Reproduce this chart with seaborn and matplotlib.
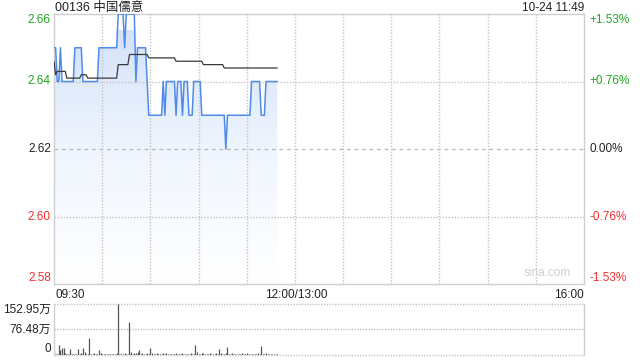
import numpy as np
import pandas as pd
import matplotlib
matplotlib.use("Agg")
import matplotlib.pyplot as plt
from matplotlib.colors import LinearSegmentedColormap
import seaborn as sns

# ---------------- data ----------------
title = "00136 中国儒意"
stamp = "10-24 11:49"
prev_close = 2.62
price_ticks = [2.66, 2.64, 2.62, 2.60, 2.58]
pct_labels = ["+1.53%", "+0.76%", "0.00%", "-0.76%", "-1.53%"]
time_labels = ["09:30", "12:00/13:00", "16:00"]
vol_tick_labels = ["152.95万", "76.48万", "0"]
vol_ticks = [152.95, 76.48, 0]

# per-minute price since 09:30 (minutes 0..139)
price = [
    2.65, 2.65, 2.64, 2.64, 2.65, 2.64, 2.64, 2.64, 2.64, 2.64,
    2.64, 2.64, 2.64, 2.65, 2.65, 2.65, 2.65, 2.65, 2.64, 2.64,
    2.64, 2.64, 2.64, 2.64, 2.64, 2.64, 2.64, 2.64, 2.65, 2.65,
    2.65, 2.65, 2.65, 2.65, 2.65, 2.65, 2.65, 2.65, 2.65, 2.65,
    2.66, 2.66, 2.66, 2.66, 2.65, 2.66, 2.66, 2.66, 2.66, 2.66,
    2.66, 2.64, 2.65, 2.65, 2.65, 2.65, 2.65, 2.65, 2.64, 2.63,
    2.63, 2.63, 2.63, 2.63, 2.63, 2.63, 2.63, 2.63, 2.64, 2.63,
    2.64, 2.64, 2.64, 2.64, 2.64, 2.64, 2.63, 2.64, 2.64, 2.64,
    2.63, 2.64, 2.64, 2.64, 2.63, 2.63, 2.63, 2.64, 2.64, 2.64,
    2.64, 2.64, 2.63, 2.63, 2.63, 2.63, 2.63, 2.63, 2.63, 2.63,
    2.63, 2.63, 2.63, 2.63, 2.63, 2.63, 2.63, 2.62, 2.63, 2.63,
    2.63, 2.63, 2.63, 2.63, 2.63, 2.63, 2.63, 2.63, 2.63, 2.63,
    2.63, 2.63, 2.63, 2.64, 2.64, 2.64, 2.64, 2.64, 2.64, 2.63,
    2.63, 2.63, 2.64, 2.64, 2.64, 2.64, 2.64, 2.64, 2.64, 2.64,
]

avg_price = [
    2.646, 2.642, 2.643, 2.643, 2.643, 2.643, 2.643, 2.643, 2.641, 2.641,
    2.641, 2.641, 2.641, 2.641, 2.641, 2.641, 2.641, 2.642, 2.642, 2.642,
    2.642, 2.641, 2.641, 2.641, 2.641, 2.641, 2.641, 2.641, 2.641, 2.641,
    2.641, 2.641, 2.641, 2.641, 2.641, 2.641, 2.641, 2.641, 2.641, 2.641,
    2.645, 2.645, 2.645, 2.645, 2.645, 2.645, 2.645, 2.648, 2.648, 2.648,
    2.648, 2.648, 2.648, 2.648, 2.648, 2.648, 2.648, 2.648, 2.648, 2.647,
    2.647, 2.647, 2.647, 2.647, 2.647, 2.647, 2.647, 2.647, 2.647, 2.647,
    2.647, 2.647, 2.647, 2.647, 2.647, 2.647, 2.646, 2.646, 2.646, 2.646,
    2.646, 2.646, 2.646, 2.646, 2.646, 2.646, 2.646, 2.646, 2.646, 2.646,
    2.646, 2.646, 2.646, 2.645, 2.645, 2.645, 2.645, 2.645, 2.645, 2.645,
    2.645, 2.645, 2.645, 2.645, 2.645, 2.645, 2.644, 2.644, 2.644, 2.644,
    2.644, 2.644, 2.644, 2.644, 2.644, 2.644, 2.644, 2.644, 2.644, 2.644,
    2.644, 2.644, 2.644, 2.644, 2.644, 2.644, 2.644, 2.644, 2.644, 2.644,
    2.644, 2.644, 2.644, 2.644, 2.644, 2.644, 2.644, 2.644, 2.644, 2.644,
]

# per-minute volume, in 万
volume = [
    13, 3, 4, 31, 14, 20, 22, 5, 4, 3,
    18, 4, 3, 2, 3, 18, 4, 5, 20, 8,
    3, 4, 51, 4, 3, 6, 3, 4, 14, 5,
    4, 3, 4, 3, 2, 3, 3, 4, 3, 5,
    152.95, 4, 3, 2, 5, 3, 4, 99, 8, 4,
    6, 5, 10, 14, 4, 6, 3, 4, 5, 3,
    21, 6, 4, 3, 5, 3, 4, 4, 5, 3,
    6, 3, 4, 3, 2, 4, 6, 3, 4, 3,
    5, 4, 3, 4, 3, 5, 4, 3, 30, 8,
    4, 3, 5, 7, 3, 4, 3, 5, 3, 4,
    3, 6, 4, 18, 5, 3, 4, 6, 24, 4,
    3, 5, 3, 4, 3, 4, 3, 5, 4, 3,
    6, 4, 3, 4, 3, 4, 3, 5, 4, 28,
    4, 3, 5, 3, 4, 3, 4, 3, 2, 3,
]

minutes = np.arange(len(price))
df = pd.DataFrame({"minute": minutes, "price": price,
                   "avg": avg_price, "volume": volume})

# ---------------- styling ----------------
sns.set_theme(style="white")
plt.rcParams["font.family"] = ["Liberation Sans", "Noto Sans CJK SC", "DejaVu Sans"]

GREEN = "#1ea51e"
RED = "#f03030"
BLUE = "#4f8be8"
GRID = "#c4c4c4"
SPINE = "#cfcfcf"
TXT = "#222222"
FS = 8.5

fig = plt.figure(figsize=(6.4, 3.6), dpi=100)
ax = fig.add_axes([54 / 640, 1 - 284 / 360, 530 / 640, 270 / 360])
axv = fig.add_axes([54 / 640, 1 - 355 / 360, 530 / 640, 51 / 360])

total_minutes = 330
ymin, ymax = 2.58, 2.66

# gradient fill under the price line
poly = ax.fill_between(df["minute"], df["price"], ymin, color="none", lw=0)
cmap = LinearSegmentedColormap.from_list("g", ["#ffffff", "#f1f6fe", "#d4e2f8"])
grad = np.linspace(0, 1, 256).reshape(-1, 1)
im = ax.imshow(grad, extent=[0, len(price) - 1, ymin, 2.655], origin="lower",
               aspect="auto", cmap=cmap, zorder=1)
im.set_clip_path(poly.get_paths()[0], transform=ax.transData)

# grid
for t in np.arange(30, total_minutes, 30):
    ax.axvline(t, color=GRID, lw=1.0, ls=(0, (1, 1.2)), zorder=2)
for p in price_ticks[1:-1]:
    if abs(p - prev_close) < 1e-9:
        ax.axhline(p, color="#b8b8b8", lw=0.9, ls=(0, (3, 3)), zorder=2)
    else:
        ax.axhline(p, color=GRID, lw=1.0, ls=(0, (1, 1.2)), zorder=2)

sns.lineplot(data=df, x="minute", y="price", ax=ax, color=BLUE, lw=1.1,
             zorder=4, legend=False)
sns.lineplot(data=df, x="minute", y="avg", ax=ax, color="#3a3a3a", lw=0.9,
             zorder=5, legend=False)

ax.set_xlim(0, total_minutes)
ax.set_ylim(ymin, ymax)
ax.set_xticks([])
ax.set_yticks([])
ax.set_xlabel("")
ax.set_ylabel("")
for s in ax.spines.values():
    s.set_color(SPINE)
    s.set_linewidth(1)

# price tick labels (left) and percentage labels (right)
colors = [GREEN, GREEN, TXT, RED, RED]
vas = ["top", "center", "center", "center", "bottom"]
for p, lab, c, va in zip(price_ticks, pct_labels, colors, vas):
    ax.text(-0.006, p, f"{p:.2f}", transform=ax.get_yaxis_transform(),
            ha="right", va=va, color=c, fontsize=FS)
    ax.text(1.011, p, lab, transform=ax.get_yaxis_transform(),
            ha="left", va=va, color=c, fontsize=FS)

# header
fig.text(55 / 640, 1 - 8 / 360, title, ha="left", va="center",
         fontsize=FS + 0.5, color=TXT)
fig.text(584 / 640, 1 - 8 / 360, stamp, ha="right", va="center",
         fontsize=FS, color=TXT)
ax.text(0.93, 0.02, "sina.com", transform=ax.transAxes, ha="center",
        va="bottom", fontsize=FS, color="#d0d0d0")

# time labels
fig.text(55 / 640, 1 - 295 / 360, time_labels[0], ha="left", va="center",
         fontsize=FS, color=TXT)
fig.text(296 / 640, 1 - 295 / 360, time_labels[1], ha="center", va="center",
         fontsize=FS, color=TXT)
fig.text(584 / 640, 1 - 295 / 360, time_labels[2], ha="right", va="center",
         fontsize=FS, color=TXT)

# volume panel
axv.vlines(df["minute"], 0, df["volume"], color="#555555", lw=0.9)
axv.set_xlim(0, total_minutes)
axv.set_ylim(0, vol_ticks[0])
axv.set_xticks([])
axv.set_yticks([])
for side in ["left", "right"]:
    axv.spines[side].set_color(SPINE)
    axv.spines[side].set_linewidth(1)
axv.spines["top"].set_visible(False)
axv.spines["bottom"].set_visible(False)
for v in vol_ticks:
    axv.axhline(v, color=GRID, lw=1.0, ls=(0, (1, 1)), zorder=0, clip_on=False)
vvas = ["top", "center", "bottom"]
for v, lab, va in zip(vol_ticks, vol_tick_labels, vvas):
    axv.text(-0.006, v, lab, transform=axv.get_yaxis_transform(),
             ha="right", va=va, fontsize=FS, color=TXT)

fig.savefig("out.png", dpi=100)
